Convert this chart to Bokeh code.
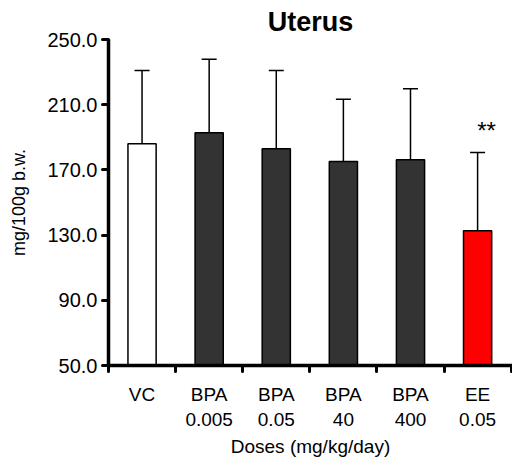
from bokeh.plotting import figure
from bokeh.models import (Range1d, FixedTicker, LinearAxis, Whisker, TeeHead,
                          ColumnDataSource, PrintfTickFormatter)
from bokeh.core.properties import value
from bokeh.embed import file_html
from bokeh.resources import INLINE

# ---- data ----
groups = ["VC", "BPA", "BPA", "BPA", "BPA", "EE"]
doses = ["", "0.005", "0.05", "40", "400", "0.05"]
means = [186.0, 192.8, 182.9, 175.1, 176.2, 132.6]
sd = [45.0, 45.1, 48.1, 38.2, 43.6, 48.0]
bar_colors = ["#ffffff", "#333333", "#333333", "#333333", "#333333", "#ff0000"]
sig = ["", "", "", "", "", "**"]
y_ticks = [50, 90, 130, 170, 210, 250]

FONT = "Liberation Sans"

xpos = [i + 0.5 for i in range(len(groups))]
upper = [m + s for m, s in zip(means, sd)]
src = ColumnDataSource(dict(x=xpos, top=means, upper=upper, color=bar_colors, sig=sig))

p = figure(width=512, height=465, output_backend="svg", toolbar_location=None,
           x_range=Range1d(0, 6.02), y_range=Range1d(y_ticks[0], y_ticks[-1]),
           min_border_left=108, min_border_right=0, min_border_top=39,
           min_border_bottom=100, title="Uterus")
p.outline_line_color = None
p.grid.visible = False
p.background_fill_color = "white"

p.title.text_font = FONT
p.title.text_font_size = "27px"
p.title.text_font_style = "bold"
p.title.text_color = "black"
p.title.align = "center"
p.title.offset = -23
p.title.standoff = 5

p.vbar(x="x", top="top", bottom=y_ticks[0], width=0.42, source=src,
       fill_color="color", line_color="black", line_width=1.5)

w = Whisker(base="x", lower="top", upper="upper", source=src, dimension="height",
            line_color="black", line_width=1.5,
            upper_head=TeeHead(size=15, line_width=1.5, line_color="black"),
            lower_head=None)
p.add_layout(w)

p.text(x="x", y="upper", text="sig", source=src, text_font=value(FONT),
       text_font_size="24px", text_font_style="normal", text_align="center",
       text_baseline="alphabetic", x_offset=9, y_offset=-22, text_color="black")

# y axis
ya = p.yaxis[0]
ya.ticker = FixedTicker(ticks=y_ticks)
ya.formatter = PrintfTickFormatter(format="%.1f")
ya.axis_line_color = "black"
ya.axis_line_width = 3.5
ya.major_tick_line_color = "black"
ya.major_tick_line_width = 3
ya.major_tick_line_cap = "round"
ya.major_tick_out = 6
ya.major_tick_in = 0
ya.minor_tick_line_color = None
ya.major_label_text_font = FONT
ya.major_label_text_font_size = "20px"
ya.major_label_text_color = "black"
ya.major_label_standoff = 5
ya.axis_label = "mg/100g b.w."
ya.axis_label_text_font = FONT
ya.axis_label_text_font_size = "18px"
ya.axis_label_text_font_style = "normal"
ya.axis_label_text_color = "black"
ya.axis_label_standoff = 15

# x axis (group names, ticks between groups)
xa = p.xaxis[0]
xa.ticker = FixedTicker(ticks=xpos, minor_ticks=list(range(len(groups) + 1)))
xa.major_label_overrides = {x: g for x, g in zip(xpos, groups)}
xa.axis_line_color = "black"
xa.axis_line_width = 3.5
xa.major_tick_line_color = None
xa.major_tick_out = 0
xa.major_tick_in = 0
xa.minor_tick_line_color = "black"
xa.minor_tick_line_width = 3
xa.minor_tick_line_cap = "round"
xa.minor_tick_out = 6
xa.minor_tick_in = 0
xa.major_label_text_font = FONT
xa.major_label_text_font_size = "19px"
xa.major_label_text_color = "black"
xa.major_label_standoff = 12

# second row of x labels (doses) + axis title
xa2 = LinearAxis(ticker=FixedTicker(ticks=xpos),
                 major_label_overrides={x: d for x, d in zip(xpos, doses)})
xa2.axis_line_color = None
xa2.major_tick_line_color = None
xa2.minor_tick_line_color = None
xa2.major_tick_out = 0
xa2.major_tick_in = 0
xa2.major_label_text_font = FONT
xa2.major_label_text_font_size = "19px"
xa2.major_label_text_color = "black"
xa2.major_label_standoff = 5
xa2.axis_label = "Doses (mg/kg/day)"
xa2.axis_label_text_font = FONT
xa2.axis_label_text_font_size = "19px"
xa2.axis_label_text_font_style = "normal"
xa2.axis_label_text_color = "black"
xa2.axis_label_standoff = 7
p.add_layout(xa2, "below")

open("out.html", "w").write(file_html(p, INLINE))
